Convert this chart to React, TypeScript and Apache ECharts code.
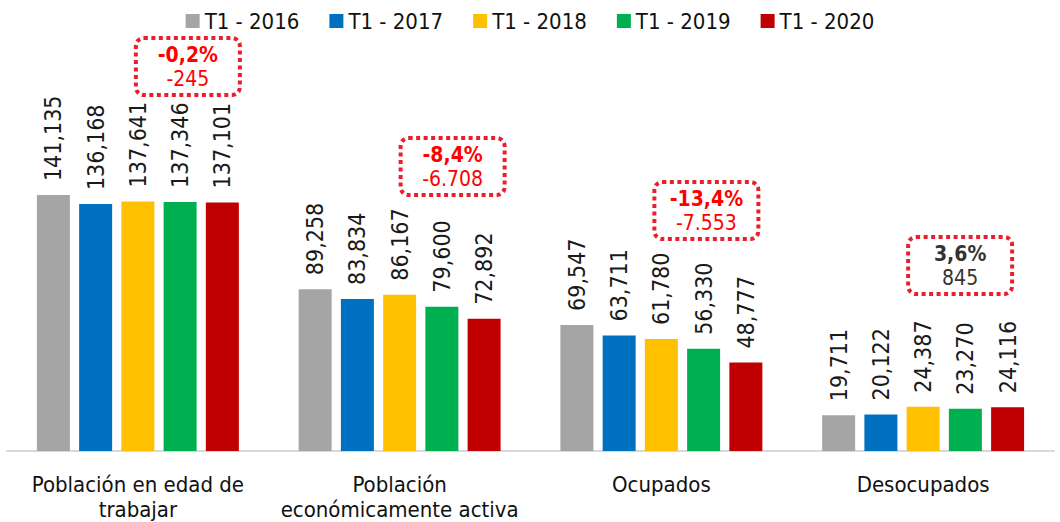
import React, { useEffect, useRef } from "react";
import * as echarts from "echarts";

const categories = [
  "Población en edad de\ntrabajar",
  "Población\neconómicamente activa",
  "Ocupados",
  "Desocupados",
];
const seriesNames = ["T1 - 2016", "T1 - 2017", "T1 - 2018", "T1 - 2019", "T1 - 2020"];
const v2016 = [141135, 89258, 69547, 19711];
const v2017 = [136168, 83834, 63711, 20122];
const v2018 = [137641, 86167, 61780, 24387];
const v2019 = [137346, 79600, 56330, 23270];
const v2020 = [137101, 72892, 48777, 24116];
const seriesValues = [v2016, v2017, v2018, v2019, v2020];
const seriesColors = ["#a5a5a5", "#0070c0", "#ffc000", "#00b050", "#c00000"];

const changePct = ["-0,2%", "-8,4%", "-13,4%", "3,6%"];
const changeAbs = ["-245", "-6.708", "-7.553", "845"];

// layout of annotation boxes (offset from category centre, top in px)
const boxOffsetX = [50, 53, 45, 37];
const boxTop = [38, 138, 182, 237];
const BOX_W = 104;
const BOX_H = 57;

const FONT = "'Liberation Sans Narrow', 'DejaVu Sans Condensed', 'Noto Sans', sans-serif";

export default function App() {
  const ref = useRef<HTMLDivElement>(null);
  useEffect(() => {
    document.body.style.margin = "0";
    if (!ref.current) return;
    const chart = echarts.init(ref.current, null, { renderer: "svg" });
    const option: any = {
      animation: false,
      textStyle: { fontFamily: FONT },
      legend: {
        top: 5,
        left: "center",
        itemWidth: 14,
        itemHeight: 14,
        itemGap: 30,
        icon: "rect",
        textStyle: { fontSize: 22, color: "#111", fontFamily: FONT },
        data: seriesNames,
      },
      grid: { left: 7, right: 6, top: 43, bottom: 71, outerBoundsMode: "none", containLabel: false },
      xAxis: {
        type: "category",
        data: categories,
        axisTick: { show: false },
        axisLine: { lineStyle: { color: "#d9d9d9", width: 2 } },
        axisLabel: {
          interval: 0,
          fontSize: 22,
          lineHeight: 25,
          color: "#111",
          margin: 21,
          fontFamily: FONT,
        },
      },
      yAxis: { type: "value", min: 0, max: 225000, show: false, splitLine: { show: false } },
      series: seriesNames.map((name, i) => ({
        name,
        type: "bar",
        data: seriesValues[i],
        barWidth: 33,
        barGap: "28%",
        itemStyle: { color: seriesColors[i] },
        label: {
          show: true,
          position: "top",
          rotate: 90,
          distance: 14,
          align: "left",
          verticalAlign: "middle",
          fontSize: 23,
          color: "#1a1a1a",
          fontFamily: FONT,
          formatter: (p: any) => Number(p.value).toLocaleString("en-US"),
        },
      })),
    };
    chart.setOption(option);

    const graphics: any[] = [];
    categories.forEach((_, i) => {
      const cx = chart.convertToPixel({ xAxisIndex: 0 }, i) as number;
      const x0 = cx + boxOffsetX[i] - BOX_W / 2;
      const y0 = boxTop[i];
      const positive = !changePct[i].startsWith("-");
      const txtColor = positive ? "#333333" : "#ff0000";
      graphics.push({
        type: "rect",
        shape: { x: x0, y: y0, width: BOX_W, height: BOX_H, r: 8 },
        style: { fill: "none", stroke: "#e8202e", lineWidth: 4, lineDash: [4, 3.5] },
        z: 10,
      });
      graphics.push({
        type: "text",
        z: 11,
        style: {
          text: changePct[i],
          x: x0 + BOX_W / 2,
          y: y0 + 17,
          align: "center",
          verticalAlign: "middle",
          textAlign: "center",
          textVerticalAlign: "middle",
          fill: txtColor,
          fontSize: 21,
          fontWeight: "bold",
          fontFamily: FONT,
        },
      });
      graphics.push({
        type: "text",
        z: 11,
        style: {
          text: changeAbs[i],
          x: x0 + BOX_W / 2,
          y: y0 + 41,
          align: "center",
          verticalAlign: "middle",
          textAlign: "center",
          textVerticalAlign: "middle",
          fill: txtColor,
          fontSize: 21,
          fontFamily: FONT,
        },
      });
    });
    chart.setOption({ graphic: graphics });

    return () => chart.dispose();
  }, []);
  return <div ref={ref} style={{ width: 1060, height: 522 }} />;
}
